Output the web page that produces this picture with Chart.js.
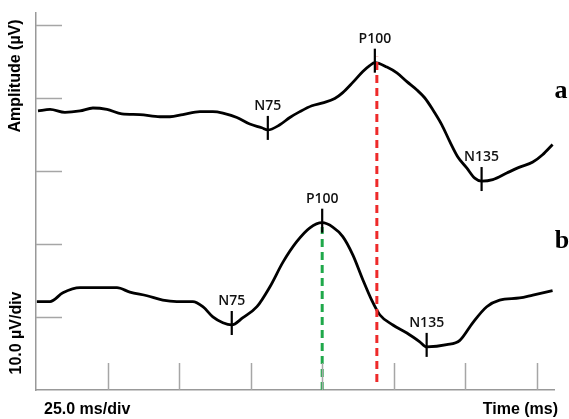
<!DOCTYPE html>
<html>
<head>
<meta charset="utf-8">
<title>Evoked potential traces</title>
<script src="https://cdn.jsdelivr.net/npm/chart.js@4/dist/chart.umd.min.js"></script>
<style>
  html, body { margin: 0; padding: 0; background: #fff; }
  canvas { display: block; }
</style>
</head>
<body>
<canvas id="chart" width="569" height="419"></canvas>
<script>
// trace a (upper) - time in ms, amplitude in µV (offset baseline)
const timeA = [0.7, 4.9, 10.1, 15.4, 19.9, 24.8, 30.0, 36.3, 43.3, 46.8, 51.3, 57.3, 61.8, 65.3, 70.2,
  74.7, 78.9, 81.0, 85.2, 88.7, 92.2, 96.4, 100.2, 104.4, 107.2, 110.7, 114.2, 116.6, 118.4, 122.6,
  126.1, 129.6, 133.0, 135.8, 138.6, 141.8, 144.6, 147.4, 150.5, 153.3, 155.7, 159.6, 164.5, 169.0,
  173.6, 177.0, 180.5];
const ampA = [38.2, 38.4, 38.0, 38.2, 38.6, 38.4, 37.8, 37.7, 37.4, 37.4, 37.7, 38.1, 38.1, 37.9, 37.3,
  36.4, 35.9, 35.6, 36.3, 37.3, 38.1, 38.9, 39.3, 39.9, 40.7, 42.1, 43.6, 44.4, 44.8, 44.2,
  43.4, 42.2, 41.1, 40.0, 38.4, 36.3, 34.0, 31.9, 30.4, 29.0, 28.6, 28.8, 29.7, 30.5,
  31.2, 32.2, 33.6];

// trace b (lower)
const timeB = [0.3, 4.9, 9.4, 15.4, 21.3, 28.3, 32.8, 38.8, 44.3, 49.2, 54.8, 58.3, 61.8, 65.3, 68.4,
  72.3, 77.2, 81.7, 86.3, 91.1, 95.7, 100.0, 103.7, 107.2, 110.7, 114.2, 117.3, 120.1, 124.7, 129.6,
  134.1, 136.5, 143.5, 148.1, 152.6, 157.5, 162.0, 169.0, 173.6, 180.5];
const ampB = [12.1, 12.1, 13.3, 14.0, 14.0, 14.0, 13.4, 12.9, 12.3, 12.1, 12.1, 11.4, 10.0, 9.2, 8.9,
  9.9, 11.4, 14.1, 17.5, 20.3, 22.2, 22.9, 22.3, 21.0, 18.5, 15.1, 12.3, 10.3, 8.9, 7.8,
  6.6, 5.9, 6.2, 6.8, 9.2, 11.4, 12.3, 12.6, 13.0, 13.6];

// labelled peaks
const peakNames = ["N75", "P100", "N135"];
const peakTimeA = [81.0, 118.4, 155.7];
const peakAmpA = [35.6, 44.8, 28.6];
const peakTimeB = [68.4, 100.0, 136.5];
const peakAmpB = [8.9, 22.9, 5.9];

// latency reference lines
const redLineTime = 119.1;
const redLineAmp = [1.1, 45.6];
const greenLineTime = 100.0;
const greenLineAmp = [0, 22.3];

// axis divisions: 25 ms/div, 10 µV/div
const xTicks = [25, 50, 75, 100, 125, 150, 175];
const yTicks = [10, 20, 30, 40, 50];

const toPoints = (xs, ys) => xs.map((x, i) => ({ x: x, y: ys[i] }));

const decorations = {
  id: "decorations",
  afterDatasetsDraw(chart) {
    const ctx = chart.ctx;
    const xs = chart.scales.x;
    const ys = chart.scales.y;
    ctx.save();

    // inward division ticks
    ctx.strokeStyle = "#a6a6a6";
    ctx.lineWidth = 1.5;
    yTicks.forEach(v => {
      const py = Math.round(ys.getPixelForValue(v)) + 0.5;
      ctx.beginPath();
      ctx.moveTo(xs.left, py);
      ctx.lineTo(xs.left + 26, py);
      ctx.stroke();
    });
    xTicks.forEach(v => {
      const px = Math.round(xs.getPixelForValue(v)) + 0.5;
      ctx.beginPath();
      ctx.moveTo(px, ys.bottom);
      ctx.lineTo(px, ys.bottom - 27);
      ctx.stroke();
    });

    // peak markers
    const drawPeaks = (times, amps) => {
      times.forEach((t, i) => {
        const px = xs.getPixelForValue(t);
        const py = ys.getPixelForValue(amps[i]);
        ctx.strokeStyle = "#000";
        ctx.lineWidth = 2.2;
        ctx.beginPath();
        ctx.moveTo(px, py - 14);
        ctx.lineTo(px, py + 10);
        ctx.stroke();
        ctx.fillStyle = "#111";
        ctx.font = "600 14px 'Open Sans'";
        ctx.textAlign = "center";
        ctx.textBaseline = "alphabetic";
        ctx.fillText(peakNames[i], px, py - 20);
      });
    };
    drawPeaks(peakTimeA, peakAmpA);
    drawPeaks(peakTimeB, peakAmpB);

    // axis captions
    ctx.fillStyle = "#000";
    ctx.font = "bold 16px 'Liberation Sans'";
    ctx.textAlign = "center";
    ctx.textBaseline = "middle";
    ctx.save();
    ctx.translate(16, 76);
    ctx.rotate(-Math.PI / 2);
    ctx.fillText("Amplitude (µV)", 0, 0);
    ctx.restore();
    ctx.save();
    ctx.translate(17, 333);
    ctx.rotate(-Math.PI / 2);
    ctx.fillText("10.0 µV/div", 0, 0);
    ctx.restore();
    ctx.textAlign = "left";
    ctx.fillText("25.0 ms/div", 44, 410);
    ctx.textAlign = "right";
    ctx.fillText("Time (ms)", 558, 410);

    // panel letters
    ctx.font = "bold 26px 'Liberation Serif'";
    ctx.textAlign = "center";
    ctx.textBaseline = "alphabetic";
    ctx.fillText("a", 561, 98);
    ctx.fillText("b", 562, 248);
    ctx.restore();
  }
};

new Chart(document.getElementById("chart"), {
  type: "line",
  data: {
    datasets: [
      {
        data: [{ x: redLineTime, y: redLineAmp[0] }, { x: redLineTime, y: redLineAmp[1] }],
        borderColor: "#ee2a2a",
        borderWidth: 3,
        borderDash: [8, 5],
        pointRadius: 0,
        order: 0
      },
      {
        data: [{ x: greenLineTime, y: greenLineAmp[0] }, { x: greenLineTime, y: greenLineAmp[1] }],
        borderColor: "#1fa84a",
        borderWidth: 3,
        borderDash: [8, 5],
        pointRadius: 0,
        order: 1
      },
      {
        data: toPoints(timeA, ampA),
        borderColor: "#000",
        borderWidth: 2.8,
        pointRadius: 0,
        cubicInterpolationMode: "monotone",
        order: 2
      },
      {
        data: toPoints(timeB, ampB),
        borderColor: "#000",
        borderWidth: 2.8,
        pointRadius: 0,
        cubicInterpolationMode: "monotone",
        order: 3
      }
    ]
  },
  options: {
    responsive: false,
    animation: false,
    devicePixelRatio: 1,
    layout: { padding: { left: 36, right: 15, top: 13, bottom: 29 } },
    plugins: { legend: { display: false }, tooltip: { enabled: false } },
    scales: {
      x: {
        type: "linear",
        min: 0,
        max: 181,
        grid: { display: false },
        ticks: { display: false },
        border: { display: true, color: "#999", width: 1.5 },
        afterFit: s => { s.height = 0; }
      },
      y: {
        type: "linear",
        min: 0,
        max: 51.6,
        grid: { display: false },
        ticks: { display: false },
        border: { display: true, color: "#999", width: 1.5 },
        afterFit: s => { s.width = 0; }
      }
    }
  },
  plugins: [decorations]
});
</script>
</body>
</html>
